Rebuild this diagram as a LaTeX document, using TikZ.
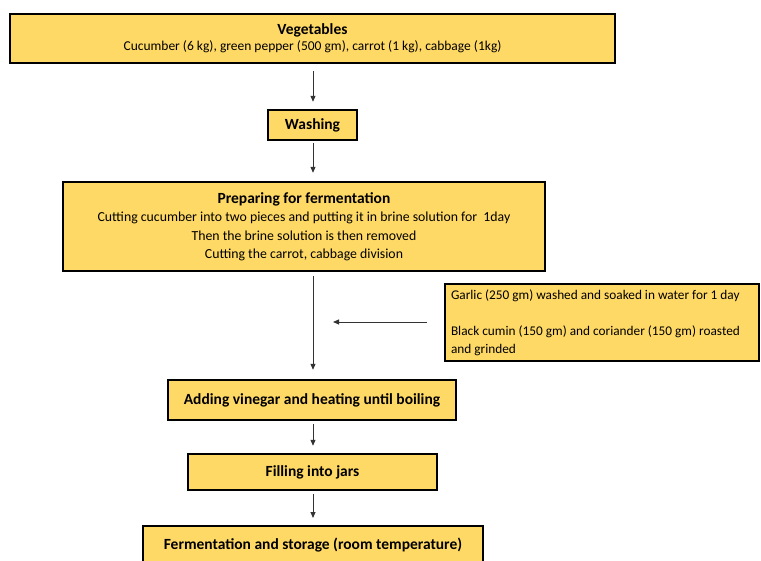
\documentclass[tikz,border=0pt]{standalone}
\usepackage{fontspec}
\setmainfont{Carlito}
\usetikzlibrary{arrows.meta}
\definecolor{boxfill}{HTML}{FFD966}
\newcommand{\ttl}{\bfseries\fontsize{15.5}{18}\selectfont}
\tikzset{
  box/.style={draw=black, line width=2.4pt, fill=boxfill, inner sep=0pt, align=center, font=\fontsize{13.8}{18.5}\selectfont},
  flow/.style={-{Triangle[length=6pt,width=5pt]}, line width=0.9pt, draw=black!80},
}
\begin{document}
\begin{tikzpicture}[x=1pt,y=-1pt]
\useasboundingbox (0,0) rectangle (761,561);
\node[box, minimum width=605pt, minimum height=49pt, font=\fontsize{13.5}{16}\selectfont] (veg) at (312.5,38.5)
  {{\ttl Vegetables}\\Cucumber (6 kg), green pepper (500 gm), carrot (1 kg), cabbage (1kg)};
\node[box, minimum width=89pt, minimum height=30pt, font=\ttl] (wash) at (312.5,125) {Washing};
\node[box, minimum width=482pt, minimum height=89pt] (prep) at (304,226.5)
  {{\ttl Preparing for fermentation}\\
   Cutting cucumber into two pieces and putting it in brine solution for \ 1day\\
   Then the brine solution is then removed\\
   Cutting the carrot, cabbage division};
\node[box, minimum width=314pt, minimum height=77pt, text width=306pt, align=flush left, font=\fontsize{13.3}{18}\selectfont] (side) at (602,322.5)
  {\hspace*{2pt}Garlic (250 gm) washed and soaked in water for 1 day\\[18pt]
   \hspace*{2pt}Black cumin (150 gm) and coriander (150 gm) roasted\\\hspace*{2pt}and grinded};
\node[box, minimum width=288pt, minimum height=40pt, font=\ttl] (add) at (312,400) {Adding vinegar and heating until boiling};
\node[box, minimum width=249pt, minimum height=36pt, font=\ttl] (fill) at (312.5,472) {Filling into jars};
\node[box, minimum width=340pt, minimum height=50pt, font=\ttl, anchor=north] (ferm) at (313,525) {\raisebox{14pt}{Fermentation and storage (room temperature)}};
\coordinate (mid) at (313,322);
\draw[flow, shorten <=7pt, shorten >=7pt] (veg.south -| mid) -- (wash.north -| mid);
\draw[flow, shorten <=2pt, shorten >=8pt] (wash.south -| mid) -- (prep.north -| mid);
\draw[flow, shorten <=4pt, shorten >=9pt] (prep.south -| mid) -- (add.north -| mid);
\draw[flow, shorten <=17pt, shorten >=20pt] (side.west |- mid) -- (mid);
\draw[flow, shorten <=3pt, shorten >=7pt] (add.south -| mid) -- (fill.north -| mid);
\draw[flow, shorten <=3pt, shorten >=7pt] (fill.south -| mid) -- (ferm.north -| mid);
\end{tikzpicture}
\end{document}
